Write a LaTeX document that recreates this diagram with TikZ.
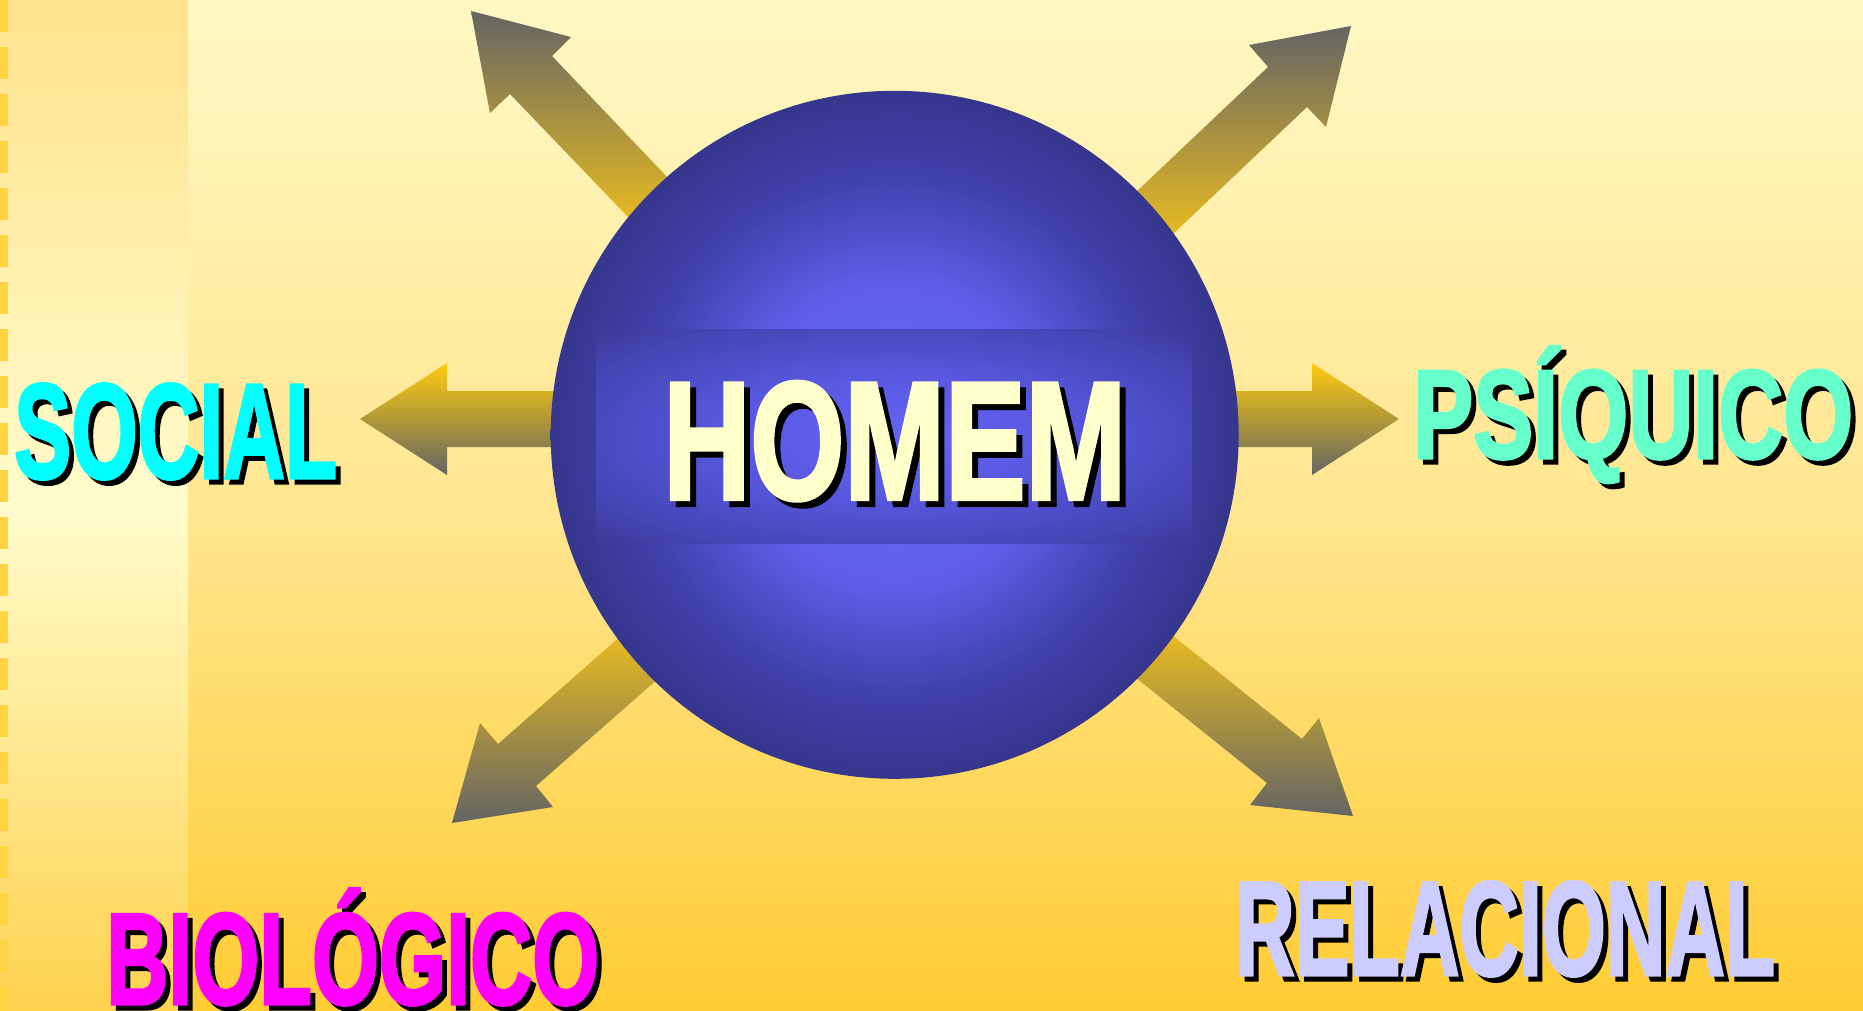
\documentclass[tikz,border=0pt]{standalone}
\usepackage{fontspec}
\setmainfont{Liberation Sans}[BoldFeatures={FakeBold=2.5}]
\usepackage{graphicx}
\definecolor{bgtop}{HTML}{FFF8C4}
\definecolor{bgmid}{HTML}{FFE690}
\definecolor{bgbot}{HTML}{FFCC33}
\definecolor{striptop}{HTML}{FFE28C}
\definecolor{stripmid}{HTML}{FFFCCC}
\definecolor{stripbot}{HTML}{FFD24E}
\definecolor{dashcol}{HTML}{FFD440}
\definecolor{arrgray}{HTML}{646464}
\definecolor{arryel}{HTML}{F2C21C}
\definecolor{arryelh}{HTML}{FFCC0E}
\definecolor{ballc}{HTML}{6868FF}
\definecolor{balll}{HTML}{5E5EEA}
\definecolor{ballm}{HTML}{4040AA}
\definecolor{balld}{HTML}{2F2F7A}
\definecolor{rectc}{HTML}{6464F6}
\definecolor{rectl}{HTML}{5858E0}
\definecolor{rectm}{HTML}{4444B2}
\definecolor{rectd}{HTML}{2F3078}
\definecolor{socialcol}{HTML}{00FFFF}
\definecolor{psicol}{HTML}{66FFCC}
\definecolor{biocol}{HTML}{FF00FF}
\definecolor{relcol}{HTML}{CCCCFF}
\definecolor{homcol}{HTML}{FFFFCC}
\pgfdeclareradialshading{ballshade}{\pgfpoint{0bp}{0bp}}{color(0bp)=(ballc); color(11bp)=(balll); color(19bp)=(ballm); color(29bp)=(balld); color(50bp)=(balld)}
\pgfdeclareradialshading{rectshade}{\pgfpoint{0bp}{0bp}}{color(0bp)=(rectc); color(14bp)=(rectl); color(29bp)=(rectm); color(42bp)=(rectd); color(50bp)=(rectd)}
\newcommand\mylabel[8]{%
  \node[lbl, text=black] (#1sh) at ({#2+#8},{-#3-#8}) {\resizebox{#4pt}{\height}{\fontsize{#5}{#5}\selectfont #7}};
  \node[lbl, text=#6] (#1) at (#2,-#3) {\resizebox{#4pt}{\height}{\fontsize{#5}{#5}\selectfont #7}};
}
\begin{document}
\begin{tikzpicture}[x=1pt,y=1pt,
  lbl/.style={anchor=base west, inner sep=0pt, font=\bfseries},
  uparrow/.style={top color=arrgray, bottom color=arryel},
  downarrow/.style={top color=arryel, bottom color=arrgray},
  harrow/.style={top color=arryelh, bottom color=arrgray}]
\useasboundingbox (0,0) rectangle (1863,-1011);
% background
\shade[top color=bgtop, bottom color=bgbot, middle color=bgmid] (0,0) rectangle (1863,-1011);
\shade[top color=striptop, bottom color=stripbot, middle color=stripmid] (0,0) rectangle (188,-1011);
\draw[line width=8pt, dashcol, dash pattern=on 32pt off 15pt] (4,0) -- (4,-1011);
% arrows
\shade[uparrow] (471,-11) -- (571,-37) -- (552,-56) -- (688,-199) -- (649,-239) -- (510,-94) -- (490,-113) -- cycle;
\shade[uparrow] (1351,-26) -- (1249,-45) -- (1268,-67) -- (1116,-211) -- (1153,-253) -- (1307,-107) -- (1326,-127) -- cycle;
\shade[downarrow] (452,-823) -- (480,-723) -- (498,-744) -- (639,-620) -- (676,-663) -- (536,-786) -- (553,-807) -- cycle;
\shade[downarrow] (1353,-816) -- (1319,-718) -- (1302,-739) -- (1152,-619) -- (1115,-661) -- (1267,-783) -- (1250,-805) -- cycle;
\shade[harrow] (360,-419) -- (447,-363) -- (447,-391) -- (575,-391) -- (575,-447) -- (447,-447) -- (447,-475) -- cycle;
\shade[harrow] (1399,-419) -- (1312,-363) -- (1312,-391) -- (1215,-391) -- (1215,-447) -- (1312,-447) -- (1312,-475) -- cycle;
% central ball
\node[circle, minimum size=688pt, inner sep=0pt, shading=ballshade] (ball) at (894.7,-434.8) {};
\shade[shading=rectshade] (596,-329) rectangle (1192,-543);
% labels
\mylabel{homem}{663}{499}{463}{168}{homcol}{HOMEM}{6}
\mylabel{social}{14}{478}{323}{135}{socialcol}{SOCIAL}{5}
\mylabel{psi}{1413}{458}{440}{126}{psicol}{PSÍQUICO}{5}
\mylabel{bio}{106}{1004}{493}{130}{biocol}{BIOLÓGICO}{5}
\mylabel{rel}{1235}{975}{540}{134}{relcol}{RELACIONAL}{5}
\end{tikzpicture}
\end{document}
